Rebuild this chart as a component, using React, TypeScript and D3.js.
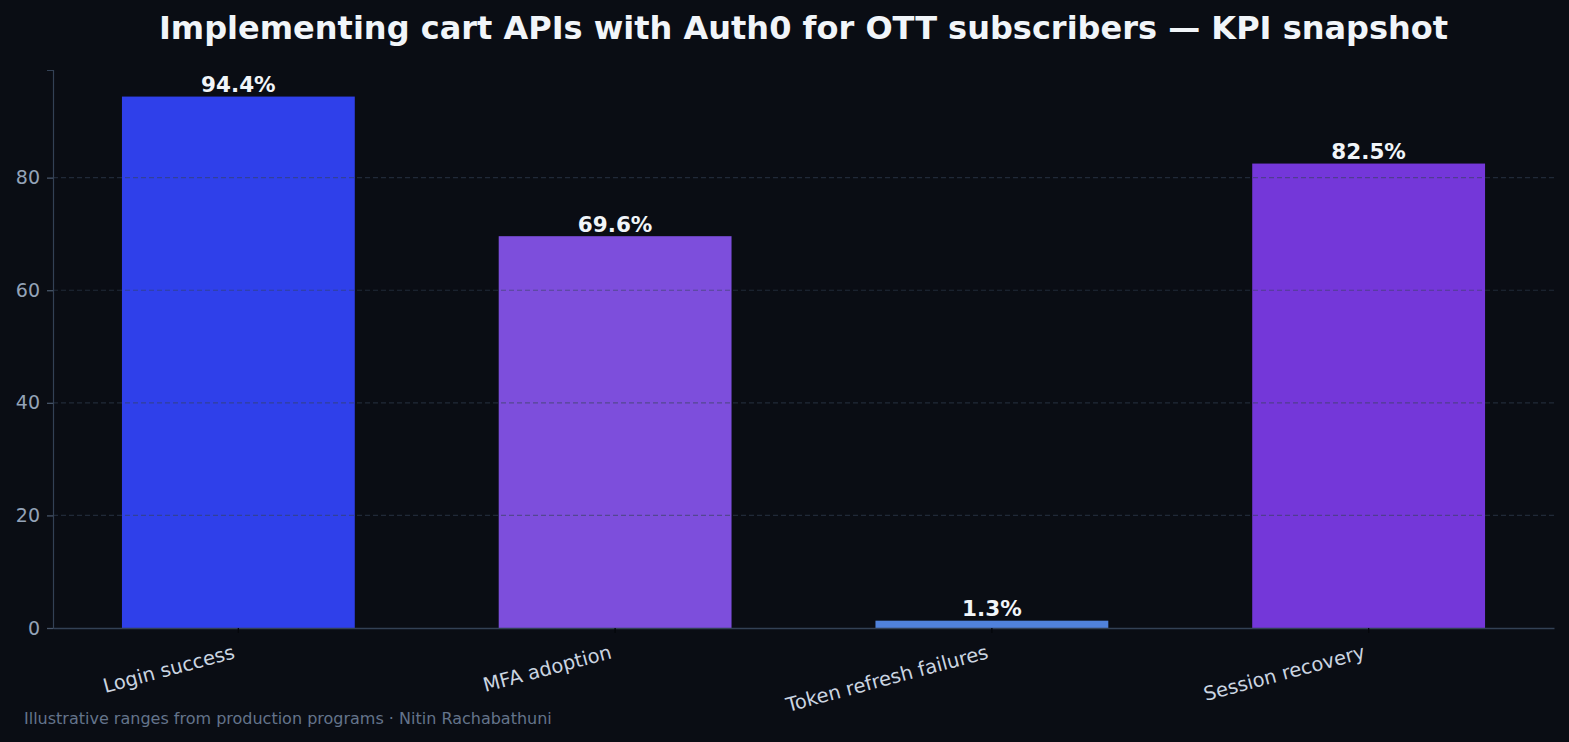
import React, { useEffect, useRef } from 'react';
import * as d3 from 'd3';

// KPI values
const categories = ['Login success', 'MFA adoption', 'Token refresh failures', 'Session recovery'];
const values = [94.4, 69.6, 1.3, 82.5];
const barColors = ['#2f40ea', '#7d4edc', '#5082dc', '#7437d9'];
const yTicks = [0, 20, 40, 60, 80];

const title = 'Implementing cart APIs with Auth0 for OTT subscribers — KPI snapshot';
const footer = 'Illustrative ranges from production programs · Nitin Rachabathuni';

const W = 1569;
const H = 742;
const margin = { top: 70, right: 15, bottom: 114, left: 53 };
const font = '"DejaVu Sans", Verdana, sans-serif';

function App() {
  const ref = useRef<SVGSVGElement | null>(null);

  useEffect(() => {
    const svg = d3.select(ref.current);
    svg.selectAll('*').remove();

    const plotW = W - margin.left - margin.right;
    const plotH = H - margin.top - margin.bottom;

    svg.append('rect').attr('width', W).attr('height', H).attr('fill', '#0a0d14');

    const g = svg.append('g').attr('transform', `translate(${margin.left},${margin.top})`);

    const x = d3.scaleBand<string>()
      .domain(categories)
      .range([0, plotW])
      .paddingInner(0.382)
      .paddingOuter(0.183);

    const yMax = d3.max(values)! * 1.05;
    const y = d3.scaleLinear().domain([0, yMax]).range([plotH, 0]);

    // bars
    g.selectAll('.bar')
      .data(values)
      .enter()
      .append('rect')
      .attr('class', 'bar')
      .attr('x', (d, i) => x(categories[i])!)
      .attr('width', x.bandwidth())
      .attr('y', d => y(d))
      .attr('height', d => y(0) - y(d))
      .attr('fill', (d, i) => barColors[i]);

    // dashed grid, drawn over the bars
    g.selectAll('.grid')
      .data(yTicks.filter(t => t > 0))
      .enter()
      .append('line')
      .attr('class', 'grid')
      .attr('x1', 0)
      .attr('x2', plotW)
      .attr('y1', d => y(d))
      .attr('y2', d => y(d))
      .attr('stroke', '#334155')
      .attr('stroke-opacity', 0.55)
      .attr('stroke-width', 1.2)
      .attr('stroke-dasharray', '5,3');

    // value labels
    g.selectAll('.val')
      .data(values)
      .enter()
      .append('text')
      .attr('class', 'val')
      .attr('x', (d, i) => x(categories[i])! + x.bandwidth() / 2)
      .attr('y', d => y(d) - 4.5)
      .attr('text-anchor', 'middle')
      .attr('fill', '#f1f5f9')
      .style('font-family', font)
      .style('font-size', '21.5px')
      .style('font-weight', 'bold')
      .text(d => `${d.toFixed(1)}%`);

    // y axis
    const yAxis = g.append('g')
      .call(d3.axisLeft(y).tickValues(yTicks).tickSize(6).tickPadding(7).tickFormat(d3.format('d')));
    yAxis.select('.domain').attr('stroke', '#334155').attr('stroke-width', 1.2);
    yAxis.selectAll('.tick line').attr('stroke', '#475569').attr('stroke-width', 1.3);
    yAxis.selectAll('.tick text')
      .attr('fill', '#94a3b8')
      .style('font-family', font)
      .style('font-size', '19px');

    // x axis
    const xAxis = g.append('g')
      .attr('transform', `translate(0,${plotH})`)
      .call(d3.axisBottom(x).tickSize(5).tickSizeOuter(0).tickPadding(0));
    xAxis.select('.domain').attr('stroke', '#334155').attr('stroke-width', 1.5);
    xAxis.selectAll('.tick line').attr('stroke', '#05070b').attr('stroke-width', 1.3);
    xAxis.selectAll('.tick text')
      .attr('fill', '#cbd5e1')
      .attr('text-anchor', 'end')
      .attr('dy', null)
      .attr('y', null)
      .attr('transform', 'translate(-2.5,30) rotate(-15)')
      .style('font-family', font)
      .style('font-size', '19.5px');

    // title
    svg.append('text')
      .attr('x', 803.5)
      .attr('y', 39)
      .attr('text-anchor', 'middle')
      .attr('fill', '#f1f5f9')
      .style('font-family', font)
      .style('font-size', '32px')
      .style('font-weight', 'bold')
      .text(title);

    // footer
    svg.append('text')
      .attr('x', 24)
      .attr('y', 724)
      .attr('fill', '#64748b')
      .style('font-family', font)
      .style('font-size', '16px')
      .text(footer);
  }, []);

  return (
    <svg
      ref={ref}
      width={W}
      height={H}
      style={{ display: 'block', position: 'absolute', left: 0, top: 0 }}
    />
  );
}

export default App;
